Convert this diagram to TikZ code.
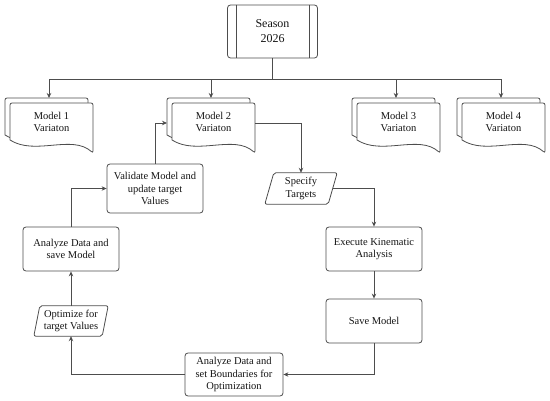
\documentclass[tikz,border=0pt]{standalone}
\usepackage{fontspec}
\setmainfont{Liberation Serif}
\usetikzlibrary{arrows.meta}
\definecolor{lc}{HTML}{4D4D4D}
\definecolor{tc}{HTML}{151515}
\newcommand{\mdoc}[3]{%
  \begin{scope}[shift={(#2,98)}]
    \path[line, fill=white, rounded corners=2pt] (0,37) -- (0,0) -- (83,0) -- (83,50) [sharp corners] .. controls (62,31) and (25,53) .. (0,37) -- cycle;
    \path[line, fill=white, rounded corners=2pt] (5,42) -- (5,5) -- (88,5) -- (88,55) [sharp corners] .. controls (67,36) and (30,58) .. (5,42) -- cycle;
  \end{scope}
  \node[txt] (#1) at ({#2+46.5},122) {#3};
  \coordinate (#1top) at ({#2+44},98);
  \coordinate (#1in) at (#2,123);
  \coordinate (#1out) at ({#2+88},123);
}
\begin{document}
\begin{tikzpicture}[x=1pt,y=-1pt,
  font=\fontsize{10.5}{12.3}\selectfont,
  line/.style={draw=lc, line width=0.8pt},
  arr/.style={line, -{Stealth[length=5pt,width=4.5pt]}},
  txt/.style={text=tc, align=center, inner sep=1pt},
  box/.style={line, txt, rounded corners=3pt, fill=white},
  para/.style={txt}]
\useasboundingbox (0,0) rectangle (550,401);

% Season
\node[box, minimum width=90pt, minimum height=53pt, font=\fontsize{12}{15}\selectfont] (season) at (272.5,31.5) {Season\\2026};
\draw[line] ([xshift=9pt]season.north west) -- ([xshift=9pt]season.south west);
\draw[line] ([xshift=-9pt]season.north east) -- ([xshift=-9pt]season.south east);

% documents
\mdoc{mA}{5}{Model 1\\Variaton}
\mdoc{mB}{167}{Model 2\\Variaton}
\mdoc{mC}{352}{Model 3\\Variaton}
\mdoc{mD}{457}{Model 4\\Variaton}

\coordinate (bus) at (272.5,79);
\draw[arr] (season.south) -- (bus) -| (mAtop);
\draw[arr] (bus) -| (mBtop);
\draw[arr] (bus) -| (mCtop);
\draw[arr] (bus) -| (mDtop);

% process boxes
\node[box, minimum width=96pt, minimum height=49pt] (valid) at (155,188.5) {Validate Model and\\update target\\Values};
\node[box, minimum width=96pt, minimum height=44pt] (asave) at (71,249) {Analyze Data and\\save Model};
\node[box, minimum width=96pt, minimum height=44pt] (exec) at (374,249) {Execute Kinematic\\Analysis};
\node[box, minimum width=96pt, minimum height=44pt] (save) at (374,321) {Save Model};
\node[box, minimum width=98pt, minimum height=43pt] (bound) at (234,374.5) {Analyze Data and\\set Boundaries for\\Optimization};

% parallelograms
\node[para, minimum width=74pt, minimum height=30pt] (opt) at (71,321) {Optimize for\\target Values};
\draw[line, rounded corners=2pt] (opt.south west) -- ([xshift=6pt]opt.north west) -- (opt.north east) -- ([xshift=-6pt]opt.south east) -- cycle;
\node[para, minimum width=72pt, minimum height=31pt] (spec) at (301,188.5) {Specify\\Targets};
\draw[line, rounded corners=2pt] (spec.south west) -- ([xshift=9pt]spec.north west) -- (spec.north east) -- ([xshift=-9pt]spec.south east) -- cycle;

% connectors
\draw[arr] (valid.north) |- (mBin);
\draw[arr] (mBout) -| (spec.north);
\draw[arr] ([xshift=-4.5pt]spec.east) -| (exec.north);
\draw[arr] (exec.south) -- (save.north);
\draw[arr] (save.south) |- (bound.east);
\draw[arr] (bound.west) -| (opt.south);
\draw[arr] (opt.north) -- (asave.south);
\draw[arr] (asave.north) |- (valid.west);
\end{tikzpicture}
\end{document}
